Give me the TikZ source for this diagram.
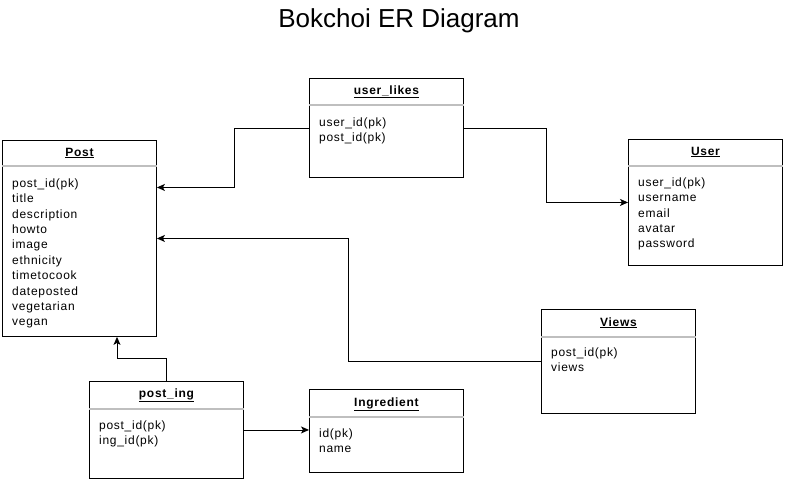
\documentclass[tikz,border=0pt]{standalone}
\usepackage{fontspec}
\setmainfont{Liberation Sans}
\newfontfamily\erfont[LetterSpace=6]{Liberation Sans}
\usetikzlibrary{arrows.meta}

\tikzset{
  sep/.style={draw=black!25,line width=1.5pt},
  link/.style={draw,line width=0.9pt,->}
}

\begin{document}
\begin{tikzpicture}[x=1pt,y=-1pt,>={Stealth[length=8pt,width=7pt,inset=2pt]}]

      \useasboundingbox (0,0) rectangle (785,482);

      \node[anchor=base,font=\fontsize{26}{30}\selectfont] (title) at (399,27) {Bokchoi ER Diagram};

      \begin{scope}[every node/.style={draw,line width=0.9pt,rectangle,inner sep=0pt,anchor=north west,minimum width=154pt}]
        \node[minimum height=196pt] (post)   at (2,140)   {};
        \node[minimum height=99pt]  (ulikes) at (309,78)  {};
        \node[minimum height=126pt] (user)   at (628,139) {};
        \node[minimum height=104pt] (views)  at (541,309) {};
        \node[minimum height=97pt]  (pin)    at (89,381)  {};
        \node[minimum height=83pt]  (ingr)   at (309,389) {};
      \end{scope}

      \draw[sep] ([yshift=-26pt]post.north west)   -- ([yshift=-26pt]post.north east);
      \draw[sep] ([yshift=-27pt]ulikes.north west) -- ([yshift=-27pt]ulikes.north east);
      \draw[sep] ([yshift=-27pt]user.north west)   -- ([yshift=-27pt]user.north east);
      \draw[sep] ([yshift=-28pt]views.north west)  -- ([yshift=-28pt]views.north east);
      \draw[sep] ([yshift=-28pt]pin.north west)    -- ([yshift=-28pt]pin.north east);
      \draw[sep] ([yshift=-28pt]ingr.north west)   -- ([yshift=-28pt]ingr.north east);

      \begin{scope}[every node/.style={anchor=base,inner sep=0pt,font=\erfont\bfseries\fontsize{12}{14}\selectfont}]
        \node (posttitle)   at ([yshift=-16pt]post.north)   {\underline{Post}};
        \node (ulikestitle) at ([yshift=-16pt]ulikes.north) {\underline{user\_likes}};
        \node (usertitle)   at ([yshift=-16pt]user.north)   {\underline{User}};
        \node (viewstitle)  at ([yshift=-17pt]views.north)  {\underline{Views}};
        \node (pintitle)    at ([yshift=-16pt]pin.north)    {\underline{post\_ing}};
        \node (ingrtitle)   at ([yshift=-17pt]ingr.north)   {\underline{Ingredient}};
      \end{scope}

      \begin{scope}[every node/.style={anchor=north west,align=left,inner sep=0pt,font=\erfont\fontsize{12}{15.4}\selectfont}]
        \node (postattr)   at ([xshift=10pt,yshift=-37pt]post.north west)
          {\rule{0pt}{10pt}post\_id(pk)\\title\\description\\howto\\image\\ethnicity\\timetocook\\dateposted\\vegetarian\\vegan};
        \node (ulikesattr) at ([xshift=10pt,yshift=-38pt]ulikes.north west)
          {\rule{0pt}{10pt}user\_id(pk)\\post\_id(pk)};
        \node (userattr)   at ([xshift=10pt,yshift=-37pt]user.north west)
          {\rule{0pt}{10pt}user\_id(pk)\\username\\email\\avatar\\password};
        \node (viewsattr)  at ([xshift=10pt,yshift=-37pt]views.north west)
          {\rule{0pt}{10pt}post\_id(pk)\\views};
        \node (pinattr)    at ([xshift=10pt,yshift=-38pt]pin.north west)
          {\rule{0pt}{10pt}post\_id(pk)\\ing\_id(pk)};
        \node (ingrattr)   at ([xshift=10pt,yshift=-38pt]ingr.north west)
          {\rule{0pt}{10pt}id(pk)\\name};
      \end{scope}

      \coordinate (likebend) at (ulikes.west -| 234,0);
      \coordinate (likein)   at ([yshift=51pt]post.east);
      \coordinate (userbend) at (user.west -| 546,0);
      \coordinate (viewbend) at (views.west -| 348,0);
      \coordinate (pinbend)  at (pin.north |- 0,358);
      \coordinate (pinin)    at (post.south -| 117,0);

      \path[link] (ulikes.west) -- (likebend) |- (likein);
      \path[link] (ulikes.east) -| (userbend) -- (user.west);
      \path[link] (views.west) -- (viewbend) |- (post.east);
      \path[link] (pin.north) -- (pinbend) -| (pinin);
      \path[link] (pin.east) -- (pin.east -| ingr.west);

    \end{tikzpicture}
\end{document}
